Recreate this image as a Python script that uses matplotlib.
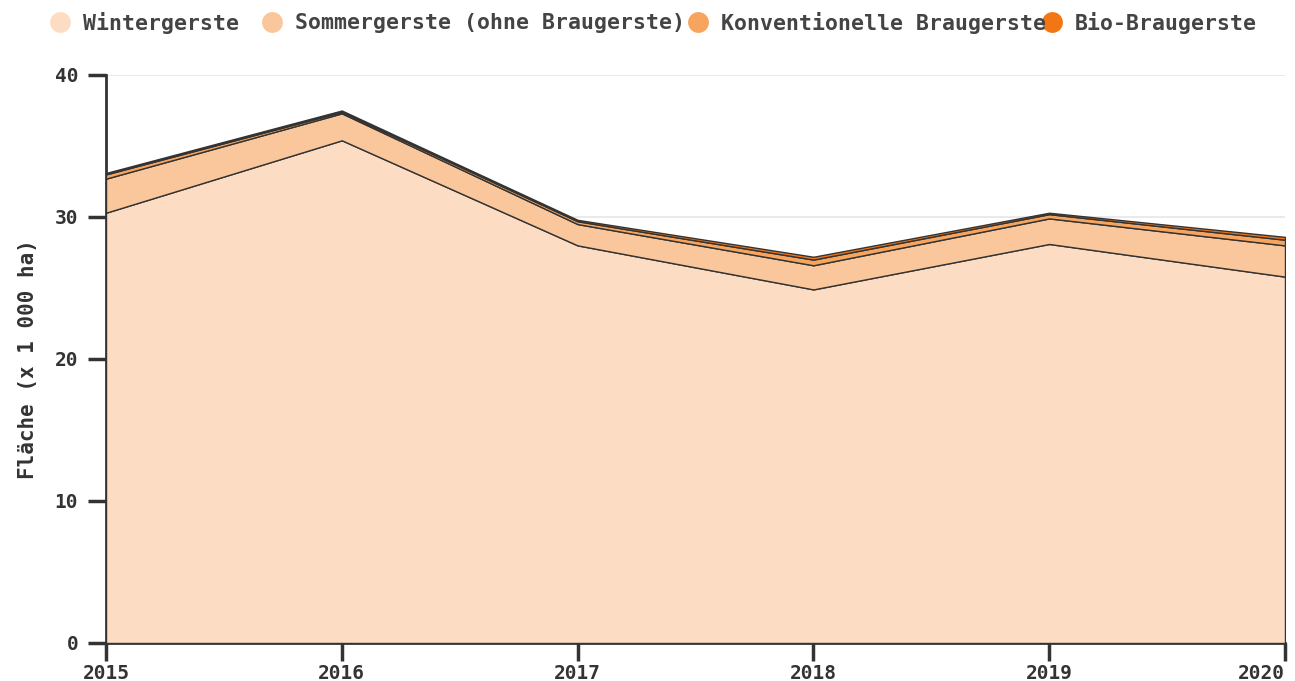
import matplotlib.pyplot as plt
from matplotlib.lines import Line2D

years = [2015, 2016, 2017, 2018, 2019, 2020]
winter = [30.3, 35.4, 28.0, 24.9, 28.1, 25.8]
sommer = [2.4, 1.9, 1.5, 1.7, 1.8, 2.2]
konv = [0.3, 0.1, 0.2, 0.4, 0.3, 0.4]
bio = [0.1, 0.1, 0.1, 0.2, 0.1, 0.2]

labels = ["Wintergerste", "Sommergerste (ohne Braugerste)",
          "Konventionelle Braugerste", "Bio-Braugerste"]
colors = ["#fcdcc3", "#f9c79b", "#f6a45e", "#f27614"]

plt.rcParams['font.family'] = 'DejaVu Sans Mono'
plt.rcParams['font.weight'] = 'bold'

fig = plt.figure(figsize=(12.95, 6.81), dpi=100)
ax = fig.add_axes([106/1295, 1-643/681, (1285-106)/1295, (643-75)/681])

ax.stackplot(years, winter, sommer, konv, bio, colors=colors,
             edgecolor='#333333', linewidth=1.0, zorder=3)

ax.set_xlim(2015, 2020)
ax.set_ylim(0, 40)
ax.set_yticks([0, 10, 20, 30, 40])
ax.set_xticks(years)
ax.yaxis.grid(True, color='#e6e6e6', linewidth=1.2, zorder=0)
ax.set_axisbelow(True)

for s in ['top', 'right']:
    ax.spines[s].set_visible(False)
# the spines sit behind the filled area, like in the original
for s in ['left', 'bottom']:
    ax.spines[s].set_color('#333333')
    ax.spines[s].set_linewidth(2)
    ax.spines[s].set_zorder(1)
ax.tick_params(axis='both', colors='#333333', width=2.5, length=13,
               labelsize=14, labelcolor='#333333')
ax.tick_params(axis='x', pad=2)
ax.tick_params(axis='y', pad=7)
for t in ax.get_xticklabels() + ax.get_yticklabels():
    t.set_fontweight('bold')
ax.get_xticklabels()[-1].set_horizontalalignment('right')

ax.set_ylabel("Fläche (x 1 000 ha)", fontsize=15, fontweight='bold',
              color='#333333', labelpad=12)

# legend drawn by hand so the entries overlap like the original
marker_x = [60, 272, 698, 1052]
for mx, lab, c in zip(marker_x, labels, colors):
    fig.text((mx + 23) / 1295, 1 - 23/681, lab, fontsize=15.5, fontweight='bold',
             color='#444444', va='center', ha='left')
for mx, c in zip(marker_x, colors):
    fig.add_artist(Line2D([mx / 1295], [1 - 22/681], marker='o', markersize=15,
                          color=c, markeredgewidth=0, transform=fig.transFigure))

fig.savefig("out.png", dpi=100)
